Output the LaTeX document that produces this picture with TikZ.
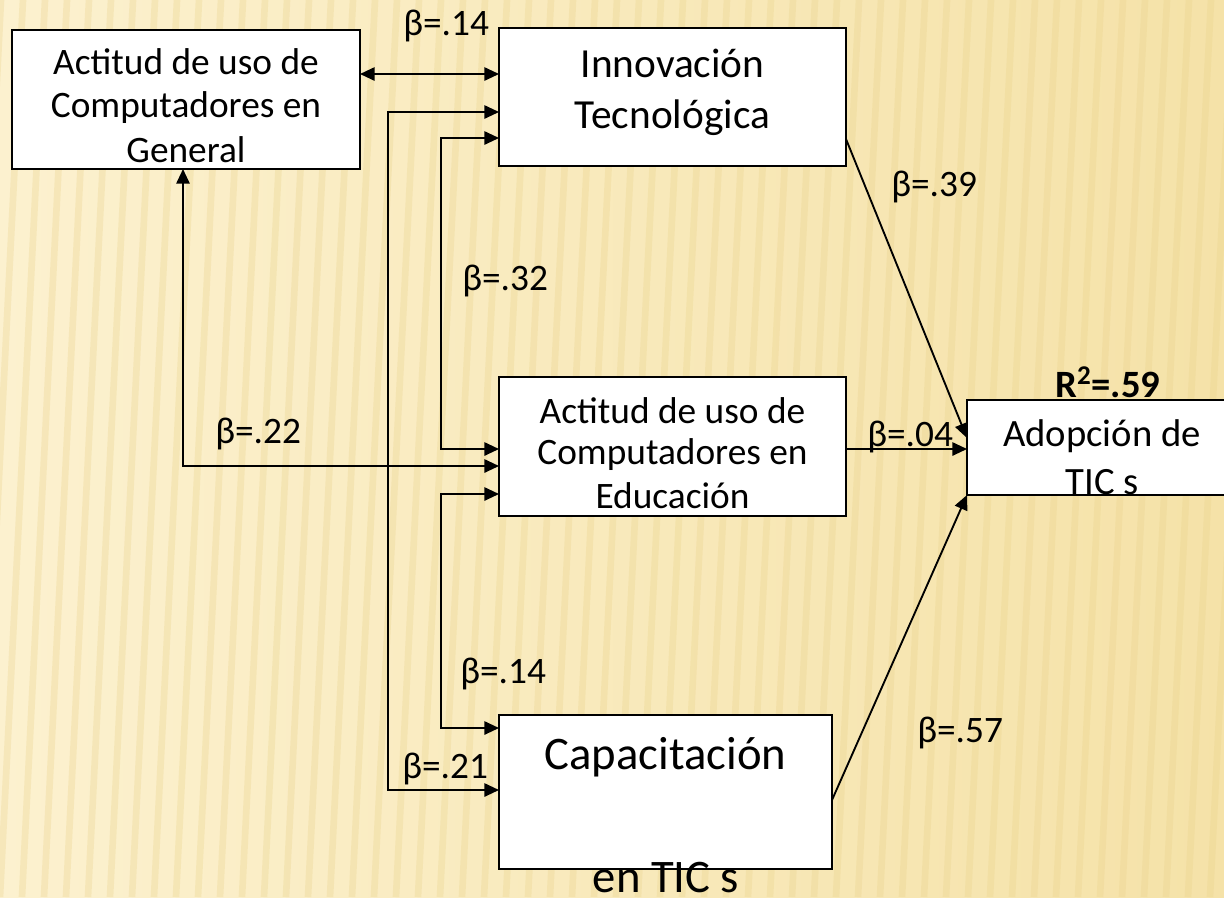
\documentclass[tikz,border=0pt]{standalone}
\usepackage{fontspec}
\setmainfont{Carlito}
\usetikzlibrary{arrows.meta}
\definecolor{bgL}{HTML}{FCF1CF}
\definecolor{bgR}{HTML}{F5E2A8}
\definecolor{stripe}{HTML}{E9D28A}
\tikzset{
  box/.style={draw=black, line width=1.4pt, fill=white, inner sep=0pt, outer sep=0pt},
  conn/.style={line width=1.4pt, draw=black},
  arr/.style={conn, -{Triangle[length=11pt,width=10pt]}},
  dbl/.style={conn, {Triangle[length=11pt,width=10pt]}-{Triangle[length=11pt,width=10pt]}},
  lbl/.style={anchor=base west, inner sep=0pt, font=\fontsize{28}{30}\selectfont},
  bt/.style={anchor=base, inner sep=0pt, font=\fontsize{28}{30}\selectfont},
  bti/.style={anchor=base, inner sep=0pt, font=\fontsize{31}{33}\selectfont},
  bta/.style={anchor=base, inner sep=0pt, font=\fontsize{29}{31}\selectfont},
  btc/.style={anchor=base, inner sep=0pt, font=\fontsize{35}{37}\selectfont},
}
\begin{document}
\begin{tikzpicture}[x=0.75pt,y=-0.75pt]
\useasboundingbox (0,0) rectangle (1224,897);
\clip (0,0) rectangle (1224,897);
\shade[left color=bgL, right color=bgR] (0,0) rectangle (1224,897);
\foreach \i in {-4,...,58} {
  \draw[stripe, line width=5pt, opacity=0.3] (\i*22,897) -- (\i*22+45,0);
}
% boxes
\node[box, minimum width=261pt, minimum height=104.25pt] (acg) at (186,99.5) {};
\node[box, minimum width=260.25pt, minimum height=103.5pt] (innov) at (672.5,97) {};
\node[box, minimum width=260.25pt, minimum height=104.25pt] (ace) at (672.5,446.5) {};
\node[box, minimum width=202.5pt, minimum height=71.25pt] (adop) at (1102,447.5) {};
\node[box, minimum width=249.75pt, minimum height=115.5pt] (cap) at (665.5,792) {};
% box texts
\node[bt] (acg1) at (186,74) {Actitud de uso de};
\node[bt] (acg2) at (186,117) {Computadores en};
\node[bt] (acg3) at (186,162) {General};
\node[bti] (inn1) at (672.5,77) {Innovación};
\node[bti] (inn2) at (672.5,128) {Tecnológica};
\node[bt] (ace1) at (672.5,423) {Actitud de uso de};
\node[bt] (ace2) at (672.5,464) {Computadores en};
\node[bt] (ace3) at (672.5,508) {Educación};
\node[bta] (ad1) at (1102,446) {Adopción de};
\node[bta] (ad2) at (1102,494) {TIC s};
\node[btc] (cap1) at (665.5,769) {Capacitación};
\node[btc] (cap2) at (666,892) {en TIC s};
% connectors
\draw[dbl] (acg.east |- 0,74) -- (innov.west |- 0,74);
\draw[dbl] (innov.west |- 0,112) -- (388,112) -- (388,790) -- (cap.west |- 0,790);
\draw[dbl] (innov.west |- 0,138) -- (441,138) -- (441,449) -- (ace.west |- 0,449);
\draw[dbl] (acg.south -| 183,0) -- (183,466) -- (ace.west |- 0,466);
\draw[dbl] (ace.west |- 0,494) -- (441,494) -- (441,728) -- (cap.west |- 0,728);
\draw[arr] (ace.east |- 0,449) -- (adop.west |- 0,449);
\draw[arr] (innov.east |- 0,139) -- (adop.west |- 0,438);
\draw[arr] (cap.east |- 0,800) -- (adop.south west);
% labels
\node[lbl] (b1) at (403,35) {β=.14};
\node[lbl] (b2) at (891,196) {β=.39};
\node[lbl] (b3) at (462,290) {β=.32};
\node[lbl] (b4) at (215,443) {β=.22};
\node[lbl] (b5) at (867,446) {β=.04};
\node[lbl, font=\bfseries\fontsize{29}{31}\selectfont] (r2) at (1055,397) {R\textsuperscript{2}=.59};
\node[lbl] (b6) at (460,683) {β=.14};
\node[lbl] (b7) at (402,778) {β=.21};
\node[lbl] (b8) at (917,742) {β=.57};
\end{tikzpicture}
\end{document}
